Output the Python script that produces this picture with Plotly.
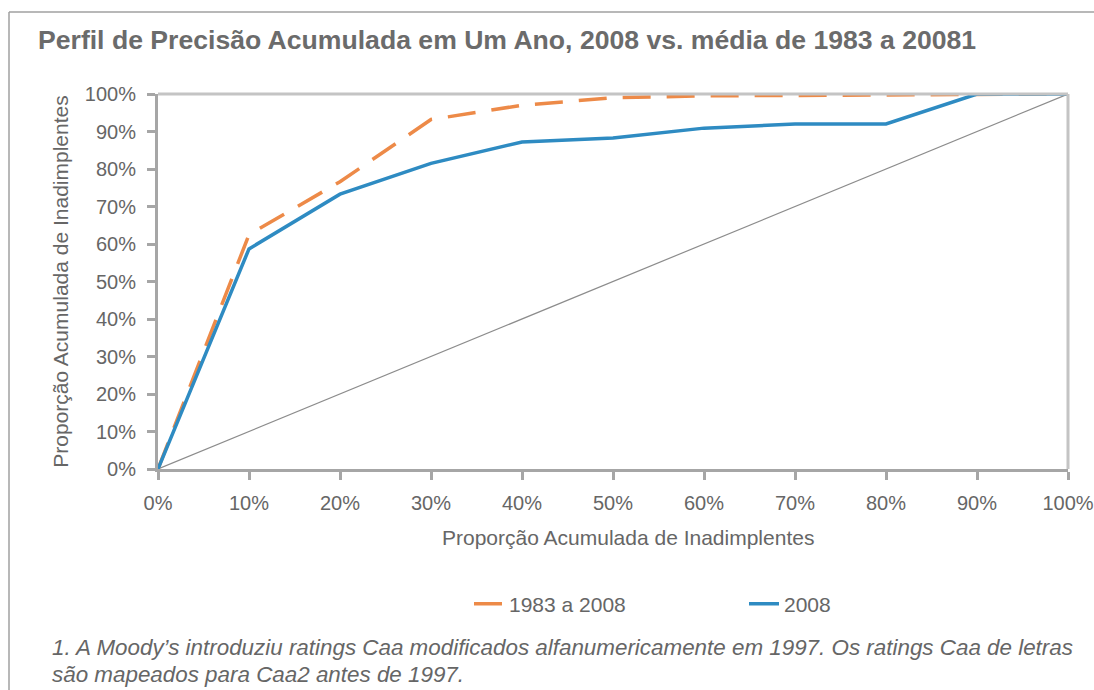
import plotly.graph_objects as go

x_vals = [0, 10, 20, 30, 40, 50, 60, 70, 80, 90, 100]
avg_1983_2008 = [0, 62.5, 76.6, 93.2, 97.0, 99.0, 99.5, 99.6, 99.7, 100, 100]
y_2008 = [0, 58.7, 73.3, 81.5, 87.2, 88.3, 90.9, 92.0, 92.0, 100, 100]
diag = [0, 10, 20, 30, 40, 50, 60, 70, 80, 90, 100]
tick_vals = [0, 10, 20, 30, 40, 50, 60, 70, 80, 90, 100]
tick_text = ["0%", "10%", "20%", "30%", "40%", "50%", "60%", "70%", "80%", "90%", "100%"]

FONT = "Liberation Sans, Arial, sans-serif"
TXT = "#666666"
ORANGE = "#ED8A48"
BLUE = "#2E8BC2"

W, H = 1094, 690
ML, MR, MT, MB = 158, 26, 94, 221
pw, ph = W - ML - MR, H - MT - MB
def px(xp):
    return (xp - ML) / pw
def py(yp):
    return (H - MB - yp) / ph

fig = go.Figure()
fig.add_trace(go.Scatter(x=x_vals, y=diag, mode="lines", line=dict(color="#8C8C8C", width=1.2),
                         showlegend=False, hoverinfo="skip"))
fig.add_trace(go.Scatter(x=x_vals, y=avg_1983_2008, mode="lines", name="1983 a 2008",
                         line=dict(color=ORANGE, width=3.5, dash="28px,16px")))
fig.add_trace(go.Scatter(x=x_vals, y=y_2008, mode="lines", name="2008",
                         line=dict(color=BLUE, width=3.5)))

fig.update_layout(
    width=W, height=H,
    margin=dict(l=ML, r=MR, t=MT, b=MB, autoexpand=False),
    paper_bgcolor="white", plot_bgcolor="white",
    font=dict(family=FONT, color=TXT, size=20),
    title=dict(text="<b>Perfil de Precisão Acumulada em Um Ano, 2008 vs. média de 1983 a 20081</b>",
               x=38 / W, xanchor="left", y=1 - 40 / H, yanchor="middle",
               font=dict(family=FONT, size=26.6, color="#6B6B6B")),
    showlegend=True,
    legend=dict(orientation="h", x=px(469), xanchor="left", y=py(604), yanchor="middle",
                font=dict(size=21, color=TXT), entrywidth=230, tracegroupgap=0),
    xaxis=dict(range=[0, 100], tickvals=tick_vals, ticktext=tick_text, showgrid=False,
               showline=True, linecolor="#A6A6A6", linewidth=3, ticks="outside", ticklen=8,
               tickwidth=3, tickcolor="#A6A6A6", zeroline=False, mirror=False,
               ticklabelstandoff=6, automargin=False,
               tickfont=dict(size=20, color=TXT)),
    yaxis=dict(range=[0, 100], tickvals=tick_vals, ticktext=tick_text, showgrid=False,
               showline=True, linecolor="#A6A6A6", linewidth=3, ticks="outside", ticklen=8,
               tickwidth=3, tickcolor="#A6A6A6", zeroline=False,
               ticklabelstandoff=7, automargin=False,
               title=dict(text="Proporção Acumulada de Inadimplentes", standoff=11, font=dict(size=21)),
               tickfont=dict(size=20, color=TXT)),
)

# x-axis title
fig.add_annotation(xref="paper", yref="paper", x=px(628), y=py(537), xanchor="center", yanchor="middle",
                   showarrow=False, text="Proporção Acumulada de Inadimplentes",
                   font=dict(size=21, color=TXT))

# top and right border of plot area
fig.add_shape(type="line", xref="paper", yref="paper", x0=0, x1=1, y0=1, y1=1,
              line=dict(color="#C4C4C4", width=3))
fig.add_shape(type="line", xref="paper", yref="paper", x0=1, x1=1, y0=0, y1=1,
              line=dict(color="#C4C4C4", width=3))

# outer frame (top and left)
fig.add_shape(type="line", xref="paper", yref="paper", x0=px(9), x1=px(1094), y0=py(12), y1=py(12),
              line=dict(color="#A0A0A0", width=1.5))
fig.add_shape(type="line", xref="paper", yref="paper", x0=px(9), x1=px(9), y0=py(12), y1=py(690),
              line=dict(color="#A0A0A0", width=1.5))

fig.add_annotation(xref="paper", yref="paper", x=px(50), y=py(647), xanchor="left", yanchor="middle",
                   showarrow=False, align="left",
                   text="<i>1. A Moody’s introduziu ratings Caa modificados alfanumericamente em 1997. Os ratings Caa de letras</i>",
                   font=dict(size=22.4, color=TXT))
fig.add_annotation(xref="paper", yref="paper", x=px(50), y=py(674), xanchor="left", yanchor="middle",
                   showarrow=False, align="left",
                   text="<i>são mapeados para Caa2 antes de 1997.</i>",
                   font=dict(size=22.4, color=TXT))

fig.write_html("out.html", config={"displayModeBar": False},
               post_script="document.body.style.margin='0';")
